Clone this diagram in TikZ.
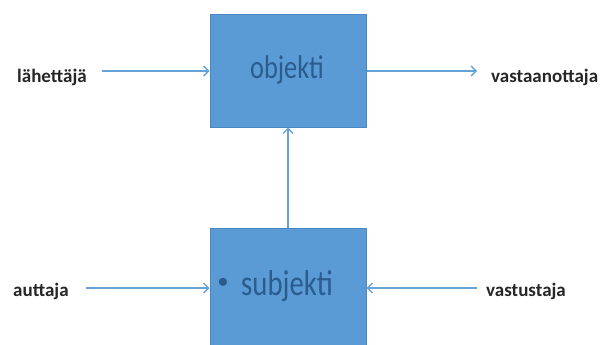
\documentclass[tikz,border=0pt]{standalone}
\usepackage{fontspec}
\setmainfont{Carlito}
\usetikzlibrary{arrows.meta}
\definecolor{boxblue}{HTML}{5B9BD5}
\definecolor{boxedge}{HTML}{4A86C0}
\definecolor{boxtext}{HTML}{2A5C8E}
\definecolor{labeltext}{HTML}{262626}
\definecolor{linkblue}{HTML}{64A2D8}
\newcommand{\narrow}[1]{\scalebox{0.8}[1]{#1}}
\begin{document}
\begin{tikzpicture}[x=1pt,y=-1pt,
  actant/.style={draw=boxedge,line width=1pt,fill=boxblue,minimum width=156pt,inner sep=0pt,text=boxtext},
  role/.style={text=labeltext,font=\fontsize{19}{22}\selectfont\bfseries,inner sep=0pt},
  link/.style={draw=linkblue,line width=1.8pt,-{Straight Barb[length=5pt,width=10pt,line width=1.4pt]}}]
  \useasboundingbox (0,0) rectangle (602,345);
  \clip (0,0) rectangle (602,345);
  % the two actant boxes
  \node[actant,minimum height=112pt] (obj) at (288,71) {};
  \node[actant,minimum height=124pt] (subj) at (288,290) {};
  \node[text=boxtext,inner sep=0pt] (objtxt) at (287,70)
    {\narrow{\fontsize{33}{36}\selectfont objekti}};
  \node[text=boxtext,inner sep=0pt] (subjtxt) at (287,286)
    {\narrow{\fontsize{36}{40}\selectfont subjekti}};
  \node[text=boxtext,inner sep=0pt] (dot) at (223,283) {\fontsize{20}{20}\selectfont$\bullet$};
  % surrounding roles
  \node[role,anchor=west] (sender) at (17,77) {lähettäjä};
  \node[role,anchor=west] (receiver) at (491,77) {vastaanottaja};
  \node[role,anchor=west] (helper) at (13,291) {auttaja};
  \node[role,anchor=west] (opponent) at (486,291) {vastustaja};
  % connectors
  \coordinate (s0) at ([xshift=15pt]sender.east |- obj.west);
  \draw[link] (s0) -- (obj.west);
  \coordinate (r1) at ([xshift=-14pt]receiver.west |- obj.east);
  \draw[link] (obj.east) -- (r1);
  \coordinate (h0) at ([xshift=17pt]helper.east |- 0,288);
  \draw[link] (h0) -- (h0 -| subj.west);
  \coordinate (o0) at ([xshift=-9pt]opponent.west |- 0,288);
  \draw[link] (o0) -- (o0 -| subj.east);
  \draw[link] (subj.north) -- (obj.south);
\end{tikzpicture}
\end{document}
